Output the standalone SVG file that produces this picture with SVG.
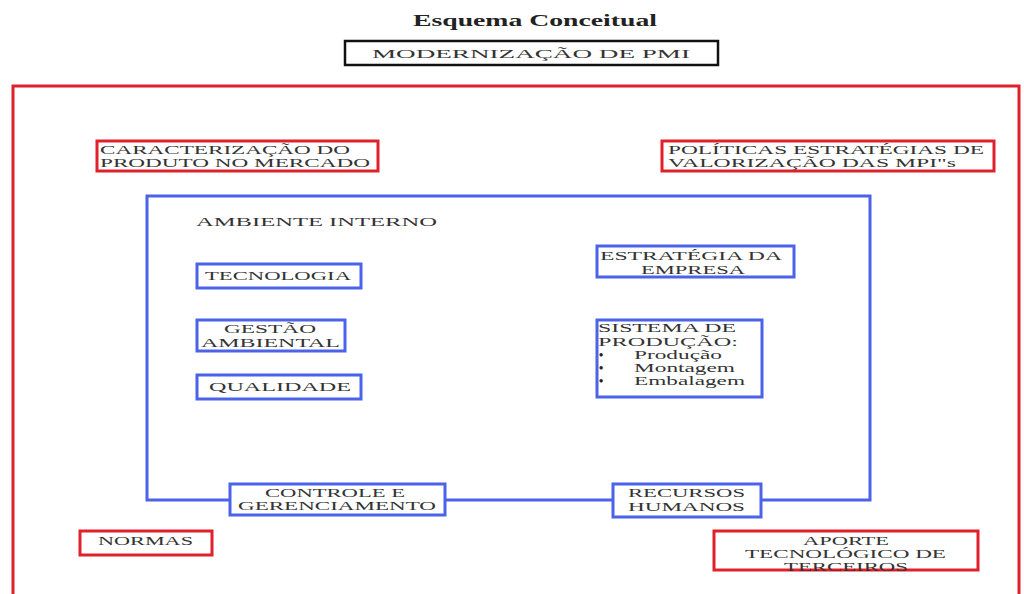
<svg xmlns="http://www.w3.org/2000/svg" width="1024" height="594" viewBox="0 0 1024 594">
<style>
text{font-family:"Liberation Serif","Times New Roman",serif;fill:#333;font-size:13px}
.t{font-weight:bold;font-size:17px;fill:#222}
.red{fill:#fff;stroke:#e0202a;stroke-width:3}
.blue{fill:#fff;stroke:#4a63e8;stroke-width:3}
.b{font-weight:bold;fill:#222;font-size:12px}
</style>
<rect width="1024" height="594" fill="#fff"/>
<text class="t" x="413" y="26" textLength="244" lengthAdjust="spacingAndGlyphs">Esquema Conceitual</text>
<g id="modernizacao">
<rect x="345" y="41" width="373" height="24" fill="#fff" stroke="#111" stroke-width="2.5"/>
<text x="372" y="58" font-size="14" textLength="318" lengthAdjust="spacingAndGlyphs">MODERNIZAÇÃO DE PMI</text>
</g>
<g id="ambiente-externo">
<rect x="13" y="86" width="1006" height="530" fill="none" stroke="#e0202a" stroke-width="3"/>
</g>
<g id="caracterizacao">
<rect class="red" x="97" y="141" width="281" height="30"/>
<text x="100" y="154" textLength="250" lengthAdjust="spacingAndGlyphs">CARACTERIZAÇÃO DO</text>
<text x="100" y="167" textLength="270" lengthAdjust="spacingAndGlyphs">PRODUTO NO MERCADO</text>
</g>
<g id="politicas">
<rect class="red" x="662" y="141" width="332" height="30"/>
<text x="668" y="154" textLength="316" lengthAdjust="spacingAndGlyphs">POLÍTICAS ESTRATÉGIAS DE</text>
<text x="668" y="167" textLength="288" lengthAdjust="spacingAndGlyphs">VALORIZAÇÃO DAS MPI"s</text>
</g>
<g id="ambiente-interno">
<rect x="147" y="196" width="723" height="304" fill="none" stroke="#4a63e8" stroke-width="3"/>
<text x="196" y="226" textLength="241" lengthAdjust="spacingAndGlyphs">AMBIENTE INTERNO</text>
</g>
<g id="tecnologia">
<rect class="blue" x="197" y="264" width="164" height="24"/>
<text x="205" y="280" textLength="146" lengthAdjust="spacingAndGlyphs">TECNOLOGIA</text>
</g>
<g id="gestao">
<rect class="blue" x="197" y="320" width="148" height="31"/>
<text x="224" y="333" textLength="92" lengthAdjust="spacingAndGlyphs">GESTÃO</text>
<text x="201" y="347" textLength="139" lengthAdjust="spacingAndGlyphs">AMBIENTAL</text>
</g>
<g id="qualidade">
<rect class="blue" x="197" y="375" width="164" height="24"/>
<text x="209" y="391" textLength="142" lengthAdjust="spacingAndGlyphs">QUALIDADE</text>
</g>
<g id="estrategia">
<rect class="blue" x="597" y="246" width="197" height="31"/>
<text x="600" y="260" textLength="182" lengthAdjust="spacingAndGlyphs">ESTRATÉGIA DA</text>
<text x="641" y="274" textLength="104" lengthAdjust="spacingAndGlyphs">EMPRESA</text>
</g>
<g id="sistema">
<rect class="blue" x="597" y="320" width="165" height="77"/>
<text x="598" y="332" textLength="138" lengthAdjust="spacingAndGlyphs">SISTEMA DE</text>
<text x="598" y="346" textLength="140" lengthAdjust="spacingAndGlyphs">PRODUÇÃO:</text>
<text class="b" x="599" y="359">•</text>
<text class="b" x="599" y="372">•</text>
<text class="b" x="599" y="385">•</text>
<text x="634" y="359" textLength="88" lengthAdjust="spacingAndGlyphs">Produção</text>
<text x="634" y="372" textLength="101" lengthAdjust="spacingAndGlyphs">Montagem</text>
<text x="634" y="385" textLength="111" lengthAdjust="spacingAndGlyphs">Embalagem</text>
</g>
<g id="controle">
<rect class="blue" x="230" y="484" width="215" height="31"/>
<text x="265" y="497" textLength="140" lengthAdjust="spacingAndGlyphs">CONTROLE E</text>
<text x="238" y="510" textLength="198" lengthAdjust="spacingAndGlyphs">GERENCIAMENTO</text>
</g>
<g id="recursos">
<rect class="blue" x="613" y="484" width="148" height="33"/>
<text x="628" y="497" textLength="117" lengthAdjust="spacingAndGlyphs">RECURSOS</text>
<text x="628" y="511" textLength="117" lengthAdjust="spacingAndGlyphs">HUMANOS</text>
</g>
<g id="normas">
<rect class="red" x="80" y="531" width="132" height="24"/>
<text x="98" y="545" textLength="95" lengthAdjust="spacingAndGlyphs">NORMAS</text>
</g>
<g id="aporte">
<rect class="red" x="714" y="531" width="264" height="39"/>
<text x="803" y="545" textLength="86" lengthAdjust="spacingAndGlyphs">APORTE</text>
<text x="745" y="558" textLength="201" lengthAdjust="spacingAndGlyphs">TECNOLÓGICO DE</text>
<text x="784" y="571" textLength="124" lengthAdjust="spacingAndGlyphs">TERCEIROS</text>
</g>
<g id="connectors"></g>
</svg>
